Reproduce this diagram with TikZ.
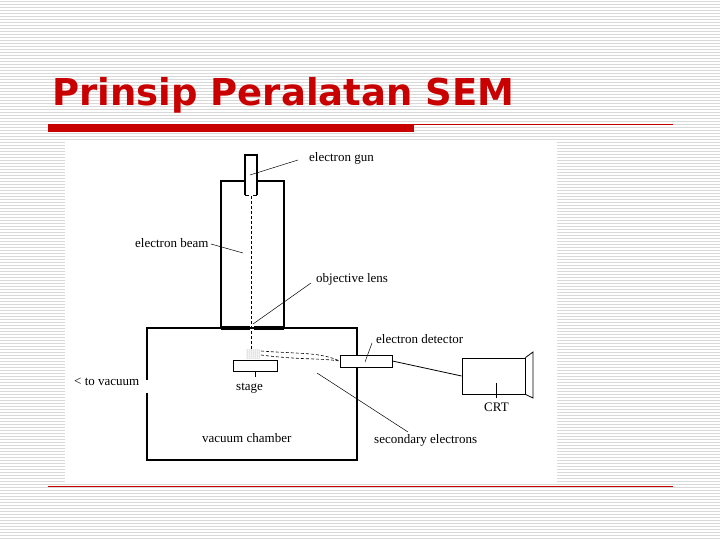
\documentclass[tikz,border=0pt]{standalone}
\usepackage{fontspec}
\setmainfont{Liberation Serif}
\newfontfamily\titlefont{DejaVu Sans}
\definecolor{sred}{RGB}{200,0,0}
\begin{document}
\begin{tikzpicture}[x=1pt,y=-1pt,
  lbl/.style={inner sep=0pt,anchor=west,font=\fontsize{13}{14}\selectfont},
  thick line/.style={line width=2pt},
  lead/.style={line width=0.5pt},
  dash line/.style={line width=0.8pt,dashed,dash pattern=on 3pt off 2pt}]
\useasboundingbox (0,0) rectangle (720,540);
\fill[white] (0,0) rectangle (720,540);
\foreach \y in {1,4,...,539} \draw[gray!30,line width=0.8pt] (0,\y) -- (720,\y);
\fill[white] (65,140) rectangle (557,482);
\node[anchor=west,inner sep=0pt,text=sred,font=\titlefont\bfseries\fontsize{37}{40}\selectfont] (title) at (52,95) {Prinsip Peralatan SEM};
\fill[sred] (48,124) rectangle (414,132);
\draw[sred,line width=0.6pt] (414,124) -- (673,124);
\draw[sred,line width=0.6pt] (48,486) -- (673,486);
% column and gun
\draw[thick line] (221,328) rectangle (284,181);
\draw[thick line,fill=white] (245,195) -- (245,155) -- (257,155) -- (257,195);
\draw[line width=0.8pt] (245,195) -- (249,195) (253,195) -- (257,195);
% chamber
\draw[thick line] (147,380) -- (147,328) -- (357,328) -- (357,460) -- (147,460) -- (147,393);
\draw[line width=3.5pt] (221,328) -- (250,328) (254,328) -- (284,328);
\draw[dash line] (251,196) -- (251,350);
% sample
\foreach \i in {247,249,...,259} \foreach \j in {350,352,...,358} \fill[gray] (\i,\j) circle (0.5);
\node[draw,line width=0.8pt,minimum width=44pt,minimum height=11pt,inner sep=0pt] (stage) at (255,365.5) {};
\draw[line width=0.8pt] (stage.south) -- ++(0,6);
% detector
\node[draw,fill=white,line width=0.8pt,minimum width=52pt,minimum height=12pt,inner sep=0pt] (det) at (366,361) {};
\draw[dash line,line width=0.6pt] (261,351) .. controls (300,354) and (320,352) .. (det.west);
\draw[dash line,line width=0.6pt] (261,355) .. controls (300,360) and (320,358) .. (det.west);
% CRT
\node[draw,line width=0.8pt,minimum width=63pt,minimum height=36pt,inner sep=0pt] (crt) at (493.5,376) {};
\draw[line width=0.8pt] (crt.north east) -- (533,352) -- (533,398) -- (crt.south east);
\draw[line width=0.8pt] (det.east) -- (crt.west);
% labels
\node[lbl] (lgun) at (309,158) {electron gun};
\draw[lead] (250,175) -- (298,160);
\node[lbl] (lbeam) at (135,243) {electron beam};
\draw[lead] (211,244) -- (243,253);
\node[lbl] (lobj) at (316,279) {objective lens};
\draw[lead] (311,283) -- (253,324);
\node[lbl] (ldet) at (376,339) {electron detector};
\draw[lead] (372,343) -- (365,362);
\node[lbl] (lvac) at (74,382) {< to vacuum};
\node[lbl] (lstage) at (236,388) {stage};
\node[lbl] (lcrt) at (484,407) {CRT};
\draw[lead] (496,398) -- (496,383);
\node[lbl] (lch) at (202,438) {vacuum chamber};
\node[lbl] (lsec) at (374,440) {secondary electrons};
\draw[lead] (408,432) -- (317,373);
\end{tikzpicture}
\end{document}
